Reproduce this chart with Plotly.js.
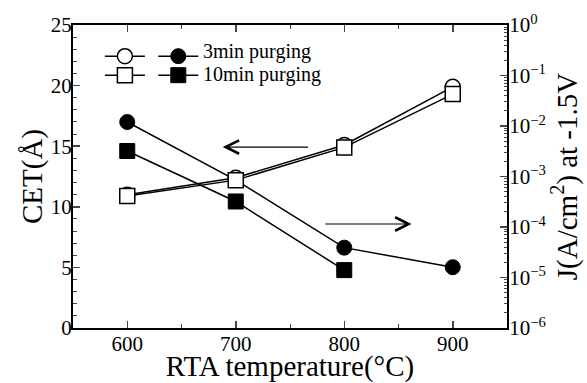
<!DOCTYPE html>
<html><head><meta charset="utf-8">
<script src="https://cdn.plot.ly/plotly-3.0.1.min.js"></script>
<style>body{margin:0;padding:0;background:#fff}#chart{width:587px;height:383px}</style>
</head><body><div id="chart"></div>
<script>
// ---- data ----
const temps = [600, 700, 800, 900];
const cet3min = [11.0, 12.4, 15.1, 19.9];
const cet10min = [10.9, 12.2, 14.9, 19.3];
const j3min = [1.2e-2, 8.5e-4, 3.9e-5, 1.6e-5];
const tempsJ10 = [600, 700, 800];
const j10min = [3.2e-3, 3.2e-4, 1.4e-5];
const jTickVals = [1e-6, 1e-5, 1e-4, 1e-3, 1e-2, 1e-1, 1];
const jTickText = ['10<sup>−6</sup>','10<sup>−5</sup>','10<sup>−4</sup>','10<sup>−3</sup>','10<sup>−2</sup>','10<sup>−1</sup>','10<sup>0</sup>'];
const seriesNames = ['3min purging', '10min purging'];

const F = 'Liberation Serif';
const lineStyle = {color: '#000', width: 1.5};

const traces = [
  {x: temps, y: j3min, yaxis: 'y', mode: 'lines+markers', name: ' ', legend: 'legend2',
   line: lineStyle, marker: {symbol: 'circle', size: 15, color: '#000', line: {color: '#000', width: 1}}},
  {x: tempsJ10, y: j10min, yaxis: 'y', mode: 'lines+markers', name: ' ', legend: 'legend2',
   line: lineStyle, marker: {symbol: 'square', size: 15, color: '#000', line: {color: '#000', width: 1}}},
  {x: temps, y: cet3min, yaxis: 'y2', mode: 'lines+markers', name: ' ', legend: 'legend',
   line: lineStyle, marker: {symbol: 'circle', size: 15, color: '#fff', line: {color: '#000', width: 1.5}}},
  {x: temps, y: cet10min, yaxis: 'y2', mode: 'lines+markers', name: ' ', legend: 'legend',
   line: lineStyle, marker: {symbol: 'square', size: 15, color: '#fff', line: {color: '#000', width: 1.5}}}
];

const minorLog = [];
for (let e = -6; e < 0; e++) { for (let m = 2; m < 10; m++) minorLog.push(m * Math.pow(10, e)); }

const legendBase = {yanchor: 'top', xanchor: 'left', y: 0.945, bgcolor: 'rgba(0,0,0,0)',
                    font: {family: F, size: 10}, tracegroupgap: 0, traceorder: 'normal',
                    itemsizing: 'trace', itemwidth: 40};

const layout = {
  width: 587, height: 383,
  margin: {l: 73, r: 80, t: 25, b: 55},
  paper_bgcolor: '#fff', plot_bgcolor: '#fff',
  font: {family: F, color: '#000', size: 21},
  showlegend: true,
  legend: Object.assign({}, legendBase, {x: 0.062}),
  legend2: Object.assign({}, legendBase, {x: 0.185}),
  xaxis: {range: [550, 950], tickvals: temps, ticks: 'inside', ticklen: 7, tickwidth: 1.5,
          showline: true, linewidth: 2, linecolor: '#000', mirror: 'ticks', showgrid: false, zeroline: false,
          minor: {dtick: 50, ticks: 'inside', ticklen: 4, tickwidth: 1},
          tickfont: {family: F, size: 21}, ticklabelstandoff: -4,
          title: {text: 'RTA temperature(°C)', font: {family: F, size: 29}, standoff: 0}},
  yaxis: {type: 'log', range: [-6, 0], side: 'right', tickvals: jTickVals, ticktext: jTickText,
          ticks: 'inside', ticklen: 7, tickwidth: 1.5, showline: true, linewidth: 2, linecolor: '#000',
          showgrid: false, zeroline: false,
          minor: {ticks: 'inside', ticklen: 3, tickwidth: 1, tickvals: minorLog},
          tickfont: {family: F, size: 21}, ticklabelstandoff: -4,
          title: {text: 'J(A/cm<sup>2</sup>) at -1.5V', font: {family: F, size: 29}, standoff: 0}},
  yaxis2: {overlaying: 'y', side: 'left', range: [0, 25], dtick: 5, ticks: 'inside', ticklen: 7, tickwidth: 1.5,
           showline: true, linewidth: 2, linecolor: '#000', showgrid: false, zeroline: false,
           minor: {dtick: 1, ticks: 'inside', ticklen: 4, tickwidth: 1},
           tickfont: {family: F, size: 21}, ticklabelstandoff: -5,
           title: {text: 'CET(Å)', font: {family: F, size: 29}, standoff: 0}},
  annotations: [
    {x: 688, y: 14.93, ax: 768, ay: 14.93, xref: 'x', yref: 'y2', axref: 'x', ayref: 'y2',
     showarrow: true, arrowhead: 5, arrowsize: 2.2, arrowwidth: 1.2, arrowcolor: '#000', text: ''},
    {x: 862, y: 8.58, ax: 781, ay: 8.58, xref: 'x', yref: 'y2', axref: 'x', ayref: 'y2',
     showarrow: true, arrowhead: 5, arrowsize: 2.2, arrowwidth: 1.2, arrowcolor: '#000', text: ''},
    {x: 0.295, y: 0.912, xref: 'paper', yref: 'paper', xanchor: 'left', yanchor: 'middle', showarrow: false,
     text: seriesNames[0], font: {family: F, size: 20}},
    {x: 0.295, y: 0.835, xref: 'paper', yref: 'paper', xanchor: 'left', yanchor: 'middle', showarrow: false,
     text: seriesNames[1], font: {family: F, size: 20}}
  ]
};
Plotly.newPlot('chart', traces, layout, {displayModeBar: false, staticPlot: true});
</script></body></html>
